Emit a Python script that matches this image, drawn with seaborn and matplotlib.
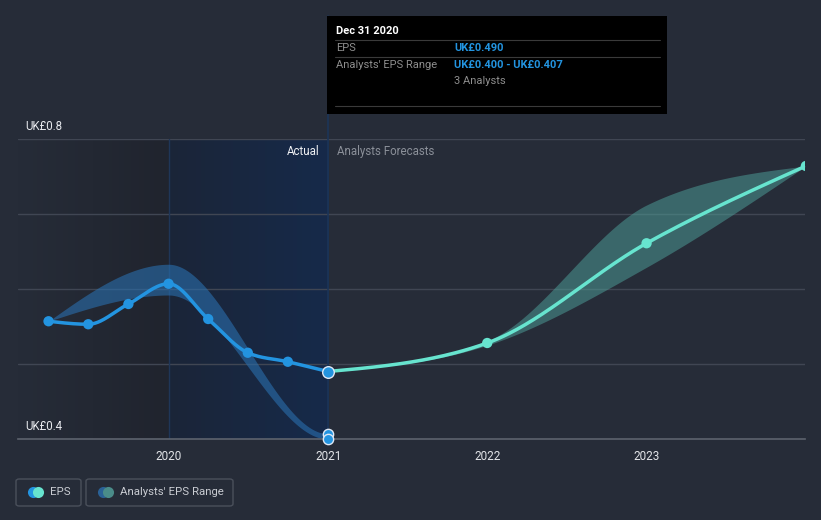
import numpy as np
import pandas as pd
import matplotlib
matplotlib.use("Agg")
import matplotlib.pyplot as plt
from matplotlib.patches import FancyBboxPatch, Rectangle
from matplotlib.lines import Line2D
from matplotlib.colors import LinearSegmentedColormap
import seaborn as sns

# ---------------- data ----------------
eps_dates = ["2019-03-31", "2019-06-30", "2019-09-30", "2019-12-31",
             "2020-03-31", "2020-06-30", "2020-09-30", "2020-12-31"]
eps_values = [0.557, 0.553, 0.580, 0.607, 0.560, 0.515, 0.503, 0.490]

fc_dates = ["2020-12-31", "2021-12-31", "2022-12-31", "2023-12-31"]
fc_values = [0.490, 0.528, 0.661, 0.764]
fc_low = [0.490, 0.525, 0.629, 0.764]
fc_high = [0.490, 0.531, 0.712, 0.764]

past_range_dates = ["2019-03-31", "2019-12-31", "2020-12-31"]
past_range_low = [0.557, 0.592, 0.400]
past_range_high = [0.557, 0.633, 0.407]

y_ticks = [0.4, 0.8]
y_tick_labels = ["UK£0.4", "UK£0.8"]
x_ticks = [2020, 2021, 2022, 2023]

# ---------------- helpers ----------------
def dec_year(s):
    d = pd.Timestamp(s)
    start = pd.Timestamp(year=d.year, month=1, day=1)
    end = pd.Timestamp(year=d.year + 1, month=1, day=1)
    return d.year + (d - start) / (end - start)


def monotone(x, y, n=60, flat_end=False):
    """Monotone cubic curve rendering (like d3.curveMonotoneX)."""
    x = np.asarray(x, float); y = np.asarray(y, float)
    h = np.diff(x); s = np.diff(y) / h
    m = len(x)
    t = np.zeros(m)
    for i in range(1, m - 1):
        p = (s[i - 1] * h[i] + s[i] * h[i - 1]) / (h[i - 1] + h[i])
        t[i] = (np.sign(s[i - 1]) + np.sign(s[i])) * min(abs(s[i - 1]), abs(s[i]), 0.5 * abs(p))
    if m > 2:
        t[0] = (3 * s[0] - t[1]) / 2
        t[-1] = (3 * s[-1] - t[-2]) / 2
    else:
        t[0] = t[-1] = s[0]
    if flat_end:
        t[-1] = 0.0
    xs, ys = [], []
    for i in range(m - 1):
        u = np.linspace(0, 1, n)
        h00 = 2 * u**3 - 3 * u**2 + 1
        h10 = u**3 - 2 * u**2 + u
        h01 = -2 * u**3 + 3 * u**2
        h11 = u**3 - u**2
        xs.append(x[i] + u * h[i])
        ys.append(h00 * y[i] + h10 * h[i] * t[i] + h01 * y[i + 1] + h11 * h[i] * t[i + 1])
    return np.concatenate(xs), np.concatenate(ys)

# ---------------- style ----------------
BG = "#262c38"
sns.set_theme(style="dark", rc={"axes.facecolor": BG, "figure.facecolor": BG})
plt.rcParams["font.family"] = ["Roboto", "DejaVu Sans"]

W, H = 821, 520
fig = plt.figure(figsize=(W / 100, H / 100), dpi=100)
fig.patch.set_facecolor(BG)

ax_l, ax_r, ax_b, ax_t = 18, 805, 439, 139
ax = fig.add_axes([ax_l / W, 1 - ax_b / H, (ax_r - ax_l) / W, (ax_b - ax_t) / H])
ax.set_facecolor(BG)

x0 = 2020 - (169 - ax_l) / 159.33
x1 = 2023 + (ax_r - 647) / 159.33

# shaded backgrounds
xa = dec_year("2019-12-31")
xb = dec_year("2020-12-31")
grad1 = np.linspace(0, 1, 256).reshape(1, -1)
cm1 = LinearSegmentedColormap.from_list("g1", [BG, "#20242e"])
cm2 = LinearSegmentedColormap.from_list("g2", ["#1b2538", "#162a4a"])
ax.imshow(grad1, extent=[x0, xa, 0.4, 0.8], aspect="auto", cmap=cm1, zorder=0)
ax.imshow(grad1, extent=[xa, xb, 0.4, 0.8], aspect="auto", cmap=cm2, zorder=0)
ax.set_xlim(x0, x1)
ax.set_ylim(0.4, 0.8)

# grid lines
for gy in [0.5, 0.6, 0.7, 0.8]:
    ax.axhline(gy, color="#404653", lw=1, zorder=1)
ax.axvline(xa, color="#1f3658", lw=1, zorder=1)

# past range band
pr_x = [dec_year(d) for d in past_range_dates]
bx, blo = monotone(pr_x, past_range_low, flat_end=True)
_, bhi = monotone(pr_x, past_range_high, flat_end=True)
ax.fill_between(bx, blo, bhi, color="#2a6fae", alpha=0.6, lw=0, zorder=2)

# forecast band
fx = [dec_year(d) for d in fc_dates]
fbx, flo = monotone(fx, fc_low)
_, fhi = monotone(fx, fc_high)
ax.fill_between(fbx, flo, fhi, color="#4fa39c", alpha=0.5, lw=0, zorder=2)

# EPS line
ex = [dec_year(d) for d in eps_dates]
sx, sy = monotone(ex, eps_values)
sns.lineplot(x=sx, y=sy, ax=ax, color="#2394e0", lw=2.5, zorder=4, sort=False)
sns.scatterplot(x=ex[:-1], y=eps_values[:-1], ax=ax, color="#2394e0", s=55,
                edgecolor="none", zorder=5)

# forecast line
gx, gy_ = monotone(fx, fc_values)
sns.lineplot(x=gx, y=gy_, ax=ax, color="#67e4cf", lw=2.5, zorder=4, sort=False)
sns.scatterplot(x=fx[1:], y=fc_values[1:], ax=ax, color="#67e4cf", s=55,
                edgecolor="none", zorder=5)

# hover vertical line at Dec 31 2020
VCOL = "#1c3558"
ax.plot([xb, xb], [0.4, 0.8], color=VCOL, lw=1.2, zorder=3)
xfig = ax_l / W + (xb - x0) / (x1 - x0) * (ax_r - ax_l) / W
fig.add_artist(Line2D([xfig, xfig], [1 - ax_t / H, 1 - 16 / H], color=VCOL, lw=1.2))

# highlighted points
ax.scatter([xb], [eps_values[-1]], s=70, color="#2394e0", edgecolor="#dfe8f5", lw=1, zorder=6)
ax.scatter([xb, xb], [past_range_high[-1], past_range_low[-1]], s=55, color="#2394e0",
           edgecolor="#dfe8f5", lw=1, zorder=6, clip_on=False)

# axes styling
for sp in ["top", "right", "left"]:
    ax.spines[sp].set_visible(False)
ax.spines["bottom"].set_color("#5d636e")
ax.spines["bottom"].set_linewidth(1.2)
ax.set_yticks([])
ax.set_xticks(x_ticks)
ax.set_xticklabels([str(t) for t in x_ticks], color="#e2e4e8", fontsize=8.5)
ax.tick_params(axis="x", colors="#5d636e", length=5, width=1, pad=3, labelcolor="#e2e4e8")
ax.set_xlabel(""); ax.set_ylabel("")
ax.grid(False)

# y labels
for v, lab in zip(y_ticks, y_tick_labels):
    py = ax_b - (v - 0.4) / 0.4 * (ax_b - ax_t)
    fig.text(25 / W, 1 - (py - 12) / H, lab, color="#e8eaee", fontsize=8.3, va="center", ha="left")

# Actual / Forecast labels
fig.text(319 / W, 1 - 151 / H, "Actual", color="#eef0f3", fontsize=8.3, va="center", ha="right")
fig.text(337 / W, 1 - 151 / H, "Analysts Forecasts", color="#8b9099", fontsize=8.3, va="center", ha="left")

# tooltip
fig.add_artist(Rectangle((327 / W, 1 - 114 / H), 340 / W, 98 / H, facecolor="black",
                         edgecolor="none", transform=fig.transFigure, zorder=10))
for ly in [40, 57, 106]:
    fig.add_artist(Line2D([335 / W, 660 / W], [1 - ly / H] * 2, color="#3a3a3a", lw=0.8, zorder=11))
TS = 8.0
fig.text(336 / W, 1 - 31 / H, "Dec 31 2020", color="white", fontsize=TS, weight="bold", va="center", zorder=12)
fig.text(336 / W, 1 - 48 / H, "EPS", color="#8e8e8e", fontsize=TS, va="center", zorder=12)
fig.text(454 / W, 1 - 48 / H, "UK£0.490", color="#2394e0", fontsize=TS, weight="bold", va="center", zorder=12)
fig.text(336 / W, 1 - 65 / H, "Analysts' EPS Range", color="#8e8e8e", fontsize=TS, va="center", zorder=12)
fig.text(454 / W, 1 - 65 / H, "UK£0.400 - UK£0.407", color="#2394e0", fontsize=TS, weight="bold", va="center", zorder=12)
fig.text(454 / W, 1 - 81 / H, "3 Analysts", color="#8e8e8e", fontsize=TS, va="center", zorder=12)

# legend
def legend_box(xl, xr, yt, yb):
    fig.add_artist(FancyBboxPatch((xl / W, 1 - yb / H), (xr - xl) / W, (yb - yt) / H,
                                  boxstyle="round,pad=0,rounding_size=0.004",
                                  facecolor="none", edgecolor="#4a505b", lw=1,
                                  transform=fig.transFigure))
legend_box(16, 81, 479, 506)
legend_box(86, 233, 479, 506)
ly = 1 - 492 / H
fig.add_artist(Line2D([33 / W], [ly], marker="o", ms=8, color="#2394e0", mec="none"))
fig.add_artist(Line2D([38 / W], [ly], marker="o", ms=8, color="#67e4cf", mec="none"))
fig.add_artist(Line2D([103 / W], [ly], marker="o", ms=8, color="#2a6196", mec="none"))
fig.add_artist(Line2D([108 / W], [ly], marker="o", ms=8, color="#4a8c89", mec="none"))
fig.text(50 / W, ly, "EPS", color="#c9ccd2", fontsize=8.2, va="center")
fig.text(120 / W, ly, "Analysts' EPS Range", color="#c9ccd2", fontsize=8.2, va="center")

fig.savefig("out.png", dpi=100, facecolor=BG)
